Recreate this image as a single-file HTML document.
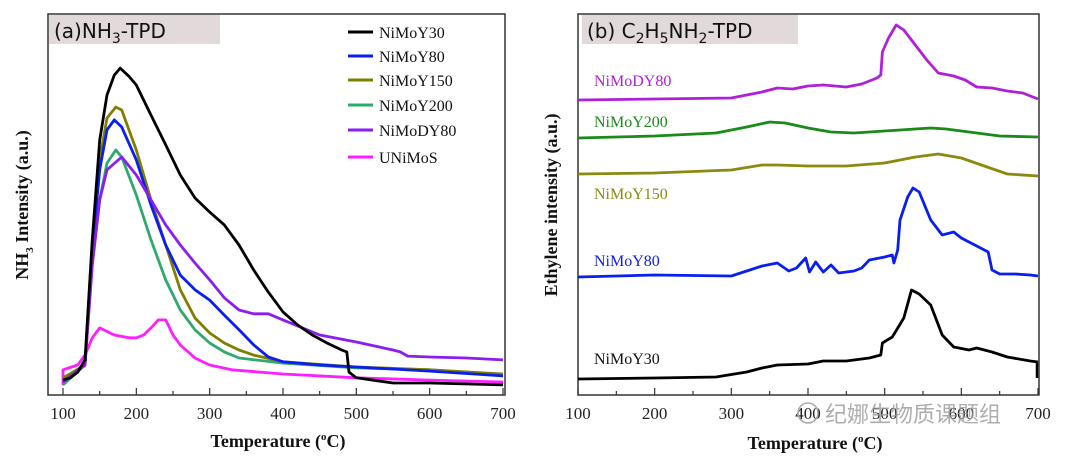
<!DOCTYPE html>
<html><head><meta charset="utf-8"><style>
body{margin:0;background:#fff;width:1080px;height:464px;overflow:hidden}
svg{display:block}
.tk{font-family:"Liberation Serif",serif;font-size:17px;fill:#222}
.ax{font-family:"Liberation Serif",serif;font-size:18px;font-weight:bold;fill:#111}
.lg{font-family:"Liberation Serif",serif;font-size:16px;fill:#111}
.tt{font-family:"DejaVu Sans",sans-serif;font-size:20px;fill:#111}
</style></head><body>
<svg id="chart" width="1080" height="464"></svg>
<script>
// ---- Panel (a) NH3-TPD data ----
const aTemps = {
  y30:[100,110,120,130,140,150,160,170,178,190,200,220,240,260,280,300,320,340,360,380,400,420,440,460,480,487,490,500,550,600,700],
  y80:[100,130,140,150,160,170,180,200,220,240,260,280,300,320,340,360,380,400,450,500,600,700],
  y150:[100,130,140,150,160,172,180,200,220,240,260,280,300,320,340,360,400,500,600,700],
  y200:[100,130,140,150,160,172,180,200,220,240,260,280,300,320,340,400,500,600,700],
  dy80:[100,130,140,150,160,180,200,220,240,260,280,300,320,340,360,380,400,450,500,550,560,570,600,650,700],
  u:[100,100,120,130,140,150,170,190,200,210,220,230,240,250,260,280,300,330,400,500,600,700]
};
const aY30=[3.1,3.8,5.6,9.4,46.9,78.1,92.2,98.4,100.6,98,95.3,85.9,76.6,67.2,60,55.6,51.6,45.3,37.5,30.6,24.4,20.3,17.2,14.7,12.5,11.9,5.6,3.8,2.2,2.2,1.6];
const aY80=[2.5,7.8,43.8,68.8,81.3,84.4,82.2,71.9,57.8,45.3,35.9,31.3,28.1,23.4,18.8,14.1,10.3,8.8,7.8,7.2,5.9,4.4];
const aY150=[3.8,7.8,46.9,71.9,85,88.4,87.5,75,59.4,45.3,31.3,22.5,17.8,14.7,12.5,10.9,8.8,7.2,6.3,5];
const aY200=[1.6,7.8,40.6,59.4,70.9,75,72.8,60.9,46.9,34.4,25,18.8,14.7,11.9,10,8.4,6.9,6.3,4.4];
const aDY80=[2.5,7.8,39,59.4,68.8,72.8,67.2,59.4,51.6,45.3,39.7,34.4,28.8,25,23.8,23.8,21.9,17.2,15,12.5,11.9,10.6,10.3,10,9.4];
const aU=[1.5,6.3,7.8,10.9,16.3,19.4,17.2,16.3,16.3,17.2,19.4,21.9,21.9,17.2,14.1,10,7.8,6.3,5,3.8,3.1,2.5];
const aTicks=[100,200,300,400,500,600,700];
const aNames=["NiMoY30","NiMoY80","NiMoY150","NiMoY200","NiMoDY80","UNiMoS"];
// ---- Panel (b) C2H5NH2-TPD data ----
const bT_dy80=[100,200,300,340,360,380,400,420,450,470,490,495,497,505,515,525,540,555,570,590,605,620,640,660,680,700];
const bV_dy80=[295,296,297,303,307,306,309,310,308,311,317,320,343,357,370,365,350,335,322,319,315,308,307,304,302,296];
const bT_y200=[100,200,280,320,350,370,400,430,460,500,540,560,580,620,650,700];
const bV_y200=[257,259,262,268,273,272,267,263,262,264,266,267,266,262,259,258];
const bT_y150=[100,200,300,340,360,400,450,500,540,570,600,630,660,700];
const bV_y150=[221,222,225,230,230,229,229,232,238,241,237,229,221,219];
const bT_y80=[100,200,300,320,340,360,375,385,397,402,410,420,430,440,460,470,480,500,510,512,517,520,530,537,545,560,575,590,600,620,635,640,650,670,690,700];
const bV_y80=[118,120,119,124,129,132,124,127,137,123,133,123,130,122,124,127,135,138,140,132,145,175,198,207,203,175,160,163,157,149,143,125,121,121,120,119];
const bT_y30=[100,200,280,320,340,360,400,420,450,480,495,497,510,525,535,545,560,575,590,610,620,640,660,690,700];
const bV_y30=[16,17,18,23,27,30,31,34,34,37,40,52,58,77,105,101,90,60,48,45,47,43,38,34,33];
const bTicks=[100,200,300,400,500,600,700];

const NS="http://www.w3.org/2000/svg";
const svg=document.getElementById('chart');
function mk(tag,attrs,parent){const e=document.createElementNS(NS,tag);for(const k in attrs)e.setAttribute(k,attrs[k]);(parent||svg).appendChild(e);return e;}
const axA=t=>63+(t-100)*(440/600);
const ayA=v=>390-v*3.2;
const axB=t=>578+(t-100)*(460/600);
const ayB=v=>395-v;

function line(ts,vs,fx,fy,color,name){
  const d=ts.map((t,i)=>(i?'L':'M')+fx(t).toFixed(1)+','+fy(vs[i]).toFixed(1)).join('');
  const p=mk('path',{d:d,fill:'none',stroke:color,'stroke-width':2.8,'stroke-linejoin':'round'});
  
  
}
function frame(x0,x1,fx,ticks,name){
  const g=mk('g',{});
  
  
  mk('rect',{x:x0,y:14,width:x1-x0,height:381,fill:'none',stroke:'#333','stroke-width':1.5},g);
  for(let t=100;t<=700;t+=50){const X=fx(t);mk('line',{x1:X,x2:X,y1:395,y2:t%100?391:388,stroke:'#333','stroke-width':1.2},g);}
  ticks.forEach(t=>{const tx=mk('text',{x:fx(t),y:419,'text-anchor':'middle',class:'tk'},g);tx.textContent=t;
    
    });
}
frame(48,505,axA,aTicks,'x-axis-a');
frame(578,1039,axB,bTicks,'x-axis-b');

function titleBox(x,w,html,name){
  const g=mk('g',{});
  mk('rect',{x:x,y:15,width:w,height:29,fill:'#e2dada'},g);
  const t=mk('text',{x:x+5,y:38,class:'tt'},g);t.innerHTML=html;
}
titleBox(49,171,'(a)NH<tspan font-size="14" dy="5">3</tspan><tspan dy="-5">-TPD</tspan>','panel-a-title');
titleBox(582,216,'(b) C<tspan font-size="14" dy="5">2</tspan><tspan dy="-5">H</tspan><tspan font-size="14" dy="5">5</tspan><tspan dy="-5">NH</tspan><tspan font-size="14" dy="5">2</tspan><tspan dy="-5">-TPD</tspan>','panel-b-title');

const aCols=['#000000','#0a1ef0','#7f7f00','#2eaa6e','#8a1ef0','#ff1eff'];
line(aTemps.u,aU,axA,ayA,aCols[5],'series-unimos');
line(aTemps.y200,aY200,axA,ayA,aCols[3],'series-nimoy200');
line(aTemps.y150,aY150,axA,ayA,aCols[2],'series-nimoy150');
line(aTemps.y80,aY80,axA,ayA,aCols[1],'series-nimoy80');
line(aTemps.dy80,aDY80,axA,ayA,aCols[4],'series-nimody80');
line(aTemps.y30,aY30,axA,ayA,aCols[0],'series-nimoy30');
const lgY=[32,56,80,105,130,157];
aNames.forEach((n,i)=>{
  const g=mk('g',{});
  
  
  mk('line',{x1:348,x2:373,y1:lgY[i],y2:lgY[i],stroke:aCols[i],'stroke-width':3},g);
  const t=mk('text',{x:379,y:lgY[i]+6,class:'lg'},g);t.textContent=n;
});
let t=mk('text',{x:278,y:447,'text-anchor':'middle',class:'ax'});t.innerHTML='Temperature (<tspan font-size="11" dy="-7">o</tspan><tspan dy="7">C)</tspan>';

t=mk('text',{x:0,y:0,'text-anchor':'middle',class:'ax',transform:'translate(28,205) rotate(-90)'});t.innerHTML='NH<tspan font-size="11" dy="5">3</tspan><tspan dy="-5"> Intensity (a.u.)</tspan>';


line(bT_dy80,bV_dy80,axB,ayB,'#b020d8','series-b-nimody80');
line(bT_y200,bV_y200,axB,ayB,'#1a8a1a','series-b-nimoy200');
line(bT_y150,bV_y150,axB,ayB,'#8a8a10','series-b-nimoy150');
line(bT_y80,bV_y80,axB,ayB,'#0a1ef0','series-b-nimoy80');
line(bT_y30,bV_y30,axB,ayB,'#000000','series-b-nimoy30');
mk('line',{x1:1037,x2:1037,y1:362,y2:378,stroke:'#000','stroke-width':2.5});
const bl=[['NiMoDY80','#b020d8',86],['NiMoY200','#1a8a1a',127],['NiMoY150','#8a8a10',199],['NiMoY80','#0a1ef0',266],['NiMoY30','#111',364]];
bl.forEach(b=>{const x=mk('text',{x:594,y:b[2],class:'lg'});x.textContent=b[0];x.setAttribute('fill',b[1]);x.style.fill=b[1];
  });
t=mk('text',{x:815,y:449,'text-anchor':'middle',class:'ax'});t.innerHTML='Temperature (<tspan font-size="11" dy="-7">o</tspan><tspan dy="7">C)</tspan>';

t=mk('text',{x:0,y:0,'text-anchor':'middle',class:'ax',transform:'translate(557,205) rotate(-90)'});t.textContent='Ethylene intensity (a.u.)';

t=mk('text',{x:825,y:422,'font-size':'22','fill':'#999','fill-opacity':'0.8','font-family':'"Noto Sans CJK SC",sans-serif'});t.textContent='纪娜生物质课题组';

mk('circle',{cx:808,cy:413,r:10,fill:'none',stroke:'#aaa','stroke-width':1.5});
</script>
</body></html>
